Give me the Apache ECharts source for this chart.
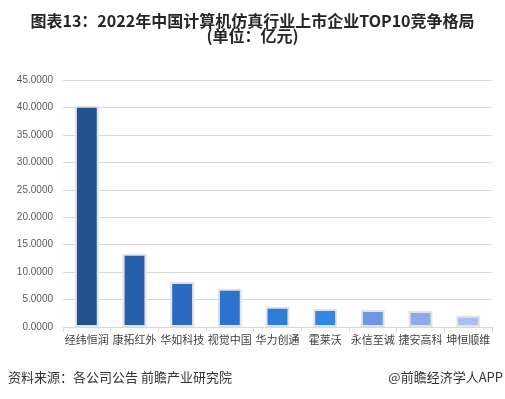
<!DOCTYPE html>
<html>
<head>
<meta charset="utf-8">
<title>ECharts</title>
<script src="https://cdn.jsdelivr.net/npm/echarts@6/dist/echarts.min.js"></script>
<style type="text/css">
    html, body { margin: 0; padding: 0; background: #fff; }
    #main { width: 505px; height: 399px; }
</style>
</head>
<body>
<div id="main"></div>
<script>
    // 企业名称
    var companies = ['经纬恒润', '康拓红外', '华如科技', '视觉中国', '华力创通', '霍莱沃', '永信至诚', '捷安高科', '坤恒顺维'];
    // 规模（亿元）
    var values = [40.3, 13.35, 8.2, 6.97, 3.7, 3.28, 3.1, 2.92, 2.06];
    var barColors = ['#24528f', '#2761ae', '#2a6bc1', '#2d73cd', '#2f7bd8', '#3386e6', '#6a98e7', '#8babea', '#a7bff0'];
    var yTicks = [0, 5, 10, 15, 20, 25, 30, 35, 40, 45];

    var myChart = echarts.init(document.getElementById('main'));
    var option = {
        backgroundColor: '#fff',
        title: {
            text: '图表13：2022年中国计算机仿真行业上市企业TOP10竞争格局\n(单位：亿元)',
            left: 'center',
            top: 8,
            padding: 5,
            textStyle: {
                fontFamily: 'Noto Sans CJK SC',
                fontSize: 16,
                fontWeight: 'bold',
                color: '#262626',
                lineHeight: 15
            }
        },
        grid: {
            left: 63,
            right: 13,
            top: 80,
            bottom: 72
        },
        xAxis: {
            type: 'category',
            data: companies,
            axisLine: { lineStyle: { color: '#d9d9d9' } },
            axisTick: { show: true, length: 5, lineStyle: { color: '#d9d9d9' } },
            axisLabel: {
                color: '#404040',
                fontSize: 11,
                fontFamily: 'Noto Sans CJK SC',
                margin: 7,
                interval: 0
            }
        },
        yAxis: {
            type: 'value',
            min: yTicks[0],
            max: yTicks[yTicks.length - 1],
            interval: 5,
            axisLine: { show: false },
            axisTick: { show: false },
            splitLine: { lineStyle: { color: '#d9d9d9' } },
            axisLabel: {
                color: '#595959',
                fontSize: 10,
                fontFamily: 'Liberation Sans',
                margin: 10,
                formatter: function (v) { return v.toFixed(4); }
            }
        },
        series: [{
            type: 'bar',
            barWidth: '50%',
            data: values.map(function (v, i) {
                return {
                    value: v,
                    itemStyle: { color: barColors[i] }
                };
            }),
            itemStyle: {
                borderColor: '#e3e3e3',
                borderWidth: 2
            }
        }],
        graphic: [
            {
                type: 'text',
                left: 8,
                top: 371,
                style: {
                    text: '资料来源：各公司公告 前瞻产业研究院',
                    font: '13px "Noto Sans CJK SC"',
                    fill: '#333'
                }
            },
            {
                type: 'text',
                right: 2,
                top: 371,
                style: {
                    text: '@前瞻经济学人APP',
                    font: '13px "Noto Sans CJK SC"',
                    fill: '#333'
                }
            }
        ]
    };
    myChart.setOption(option);
</script>
</body>
</html>
